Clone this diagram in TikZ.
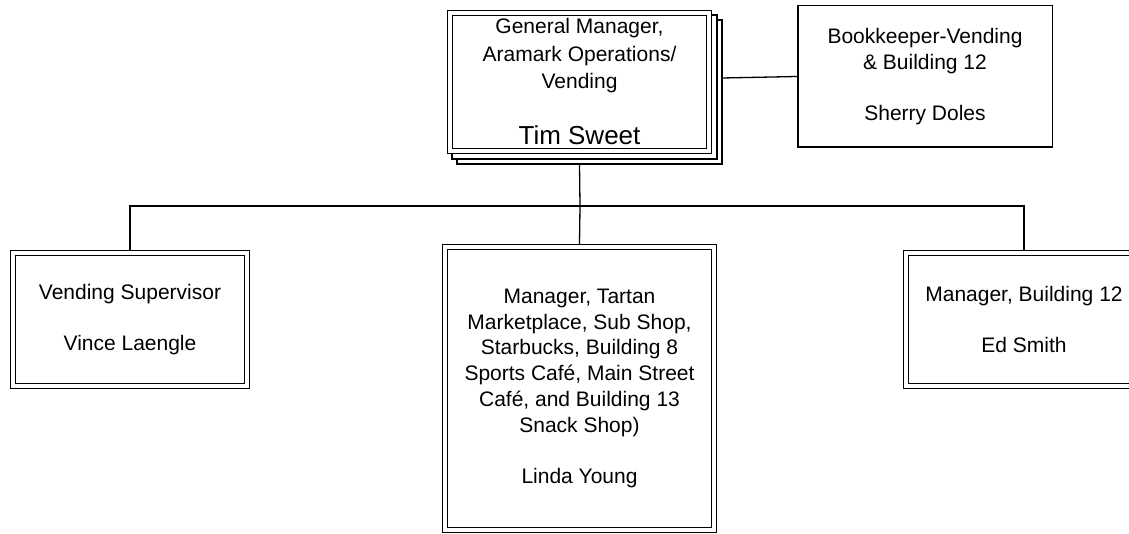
\documentclass[tikz,border=0pt]{standalone}
\usepackage{fontspec}
\setmainfont{Liberation Sans}
\usetikzlibrary{calc,backgrounds}
\begin{document}
\begin{tikzpicture}[x=1pt,y=-1pt,
  dbox/.style={rectangle, draw, double, line width=1.3pt, double distance=3.7pt, fill=white,
    inner sep=0pt, outer sep=3.15pt, align=center, font=\fontsize{21}{25.7}\selectfont},
  sbox/.style={rectangle, draw, line width=1.5pt, fill=white, inner sep=0pt, outer sep=0.75pt,
    align=center, font=\fontsize{21}{25.7}\selectfont},
  conn/.style={draw, line width=1.3pt},
  stackbox/.style={draw, line width=1.3pt, fill=white}]
\begin{scope}[on background layer]
  \fill[white] (0,0) rectangle (1129,534);
\end{scope}
\useasboundingbox (0,0) rectangle (1129,534);

\node[dbox, minimum width=258.7pt, minimum height=137.7pt,
      font=\fontsize{21}{27.5}\selectfont] (top) at (579.5,82)
  {General Manager,\\Aramark Operations/\\Vending\\[28.5pt]\fontsize{26}{27.5}\selectfont Tim Sweet};
\begin{scope}[on background layer]
  \draw[stackbox] ($(top.north west)+(10,10)$) rectangle ($(top.south east)+(10,10)$);
  \draw[stackbox] ($(top.north west)+(5,5)$) rectangle ($(top.south east)+(5,5)$);
\end{scope}

\node[sbox, minimum width=254.5pt, minimum height=141.5pt] (book) at (925,76.5)
  {Bookkeeper-Vending\\\& Building 12\\[25.7pt]Sherry Doles};

\node[dbox, minimum width=233.7pt, minimum height=132.7pt] (left) at (130,319.5)
  {Vending Supervisor\\[25.7pt]Vince Laengle};

\node[dbox, minimum width=268.7pt, minimum height=282.7pt] (center) at (579.5,388.5)
  {Manager, Tartan\\Marketplace, Sub Shop,\\Starbucks, Building 8\\Sports Café, Main Street\\Café, and Building 13\\Snack Shop)\\[25.7pt]Linda Young};

\node[dbox, minimum width=235.7pt, minimum height=132.7pt] (right) at (1024,319.5)
  {Manager, Building 12\\[25.7pt]Ed Smith};

\coordinate (bus) at (580,206);
\draw[conn] ($(top.south)+(0,10)$) -- (bus);
\draw[conn] (left.north) |- (bus) -| (right.north);
\draw[conn] (bus) -- (center.north);
\draw[conn] ($(top.east)+(10,-4)$) -- (book.west);
\end{tikzpicture}
\end{document}
